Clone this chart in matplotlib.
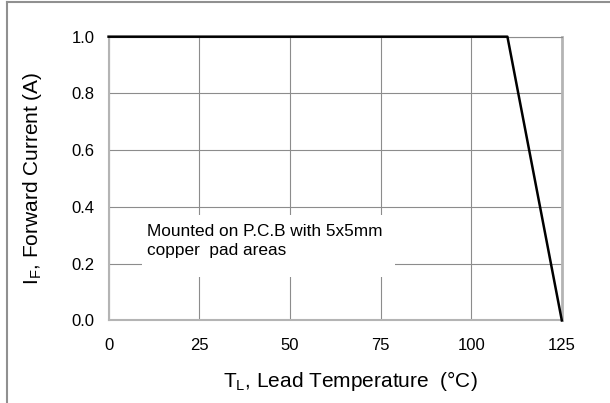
import matplotlib
matplotlib.use("Agg")
import matplotlib.pyplot as plt
from matplotlib.lines import Line2D
from matplotlib.patches import Rectangle

plt.rcParams['font.family'] = ['Liberation Sans', 'DejaVu Sans']

# derating curve
temp = [0, 110, 125]
current = [1.0, 1.0, 0.0]

x_ticks = [0, 25, 50, 75, 100, 125]
y_ticks = [0.0, 0.2, 0.4, 0.6, 0.8, 1.0]
y_tick_labels = ['0.0', '0.2', '0.4', '0.6', '0.8', '1.0']

fig = plt.figure(figsize=(6.1, 4.03), dpi=100)
ax = fig.add_axes([0.178, 0.205, 0.743, 0.704])

ax.plot(temp, current, color='black', lw=1.8, zorder=5, clip_on=False)

ax.set_xlim(0, 125)
ax.set_ylim(0, 1.0)
ax.set_xticks(x_ticks)
ax.set_yticks(y_ticks)
ax.set_yticklabels(y_tick_labels)
ax.tick_params(length=0, labelsize=12)
ax.tick_params(axis='y', pad=10)
ax.tick_params(axis='x', pad=13)
ax.grid(True, color='#8c8c8c', lw=0.8)
ax.set_axisbelow(True)

for side in ['left', 'bottom']:
    ax.spines[side].set_color('#b4b4b4')
    ax.spines[side].set_linewidth(1.5)
ax.spines['right'].set_color('#b4b4b4')
ax.spines['right'].set_linewidth(2)
ax.spines['top'].set_color('#8c8c8c')
ax.spines['top'].set_linewidth(0.8)

ax.set_xlabel('T$_\\mathregular{L}$, Lead Temperature  (°C)', fontsize=15)
ax.set_ylabel('I$_\\mathregular{F}$, Forward Current (A)', fontsize=15)
ax.xaxis.label.set_va('center')
ax.yaxis.label.set_va('center')
ax.xaxis.set_label_coords(0.533, -0.214)
ax.yaxis.set_label_coords(-0.167, 0.5)

# note box covering the grid
ax.add_patch(Rectangle((9.1, 0.153), 69.9, 0.219, facecolor='white',
                       edgecolor='none', zorder=3))
ax.text(10.6, 0.28, 'Mounted on P.C.B with 5x5mm\ncopper  pad areas',
        fontsize=12.4, va='center', ha='left', zorder=4, linespacing=1.3)

# outer frame (left and top only)
fig.add_artist(Line2D([0.012, 0.012], [0, 0.995], transform=fig.transFigure,
                      color='#909090', lw=1.5))
fig.add_artist(Line2D([0.012, 1], [0.995, 0.995], transform=fig.transFigure,
                      color='#909090', lw=1.5))

fig.savefig('out.png', dpi=100)
